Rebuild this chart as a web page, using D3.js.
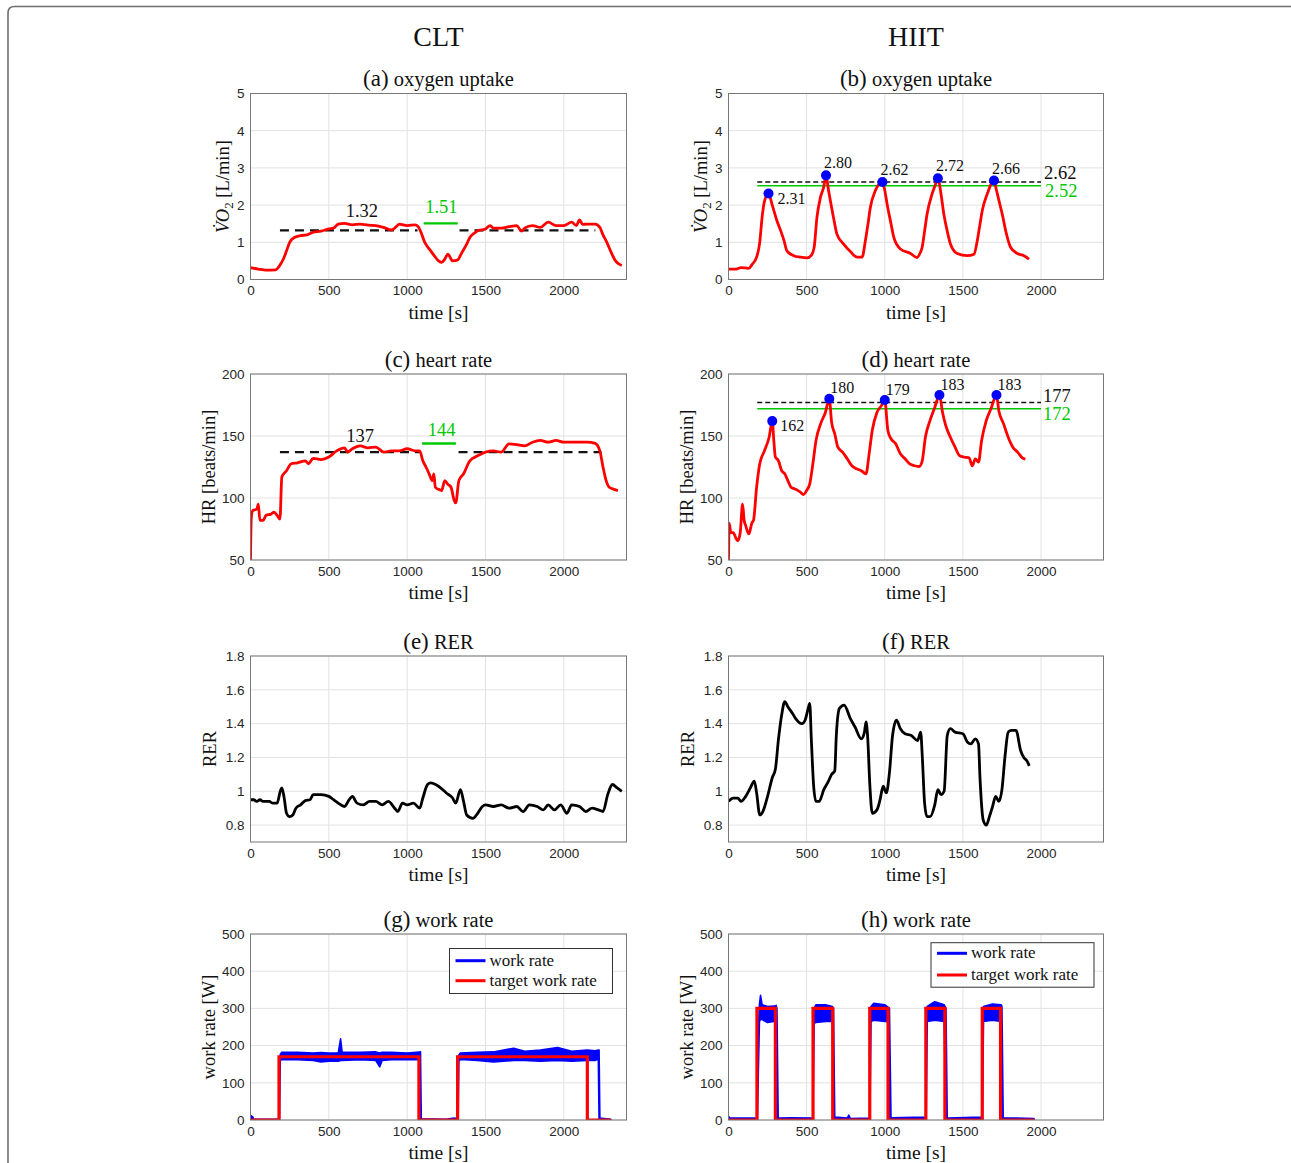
<!DOCTYPE html>
<html><head><meta charset="utf-8">
<script src="https://cdn.jsdelivr.net/npm/d3@7"></script>
<style>
body{margin:0;background:#fff;}
svg{display:block;}
</style></head>
<body>
<svg id="chart" width="1291" height="1163"></svg>
<script>
// ---------------- DATA ----------------
const columnTitles = ["CLT", "HIIT"];
const xTicks = [0, 500, 1000, 1500, 2000];
const vo2Ticks = [0, 1, 2, 3, 4, 5];
const hrTicks = [50, 100, 150, 200];
const rerTicks = [0.8, 1, 1.2, 1.4, 1.6, 1.8];
const wrTicks = [0, 100, 200, 300, 400, 500];
const legendLabels = ["work rate", "target work rate"];

// (a) CLT oxygen uptake [t, L/min]
const cltVo2 = [[0,0.32],[50,0.28],[100,0.25],[160,0.26],[190,0.40],[210,0.55],[230,0.77],[250,1.0],[280,1.13],[320,1.18],[360,1.20],[400,1.27],[450,1.30],[500,1.36],[530,1.38],[560,1.49],[600,1.51],[650,1.47],[700,1.49],[750,1.46],[800,1.45],[850,1.40],[900,1.33],[930,1.42],[950,1.49],[1000,1.45],[1050,1.47],[1070,1.42],[1090,1.25],[1110,1.02],[1130,0.88],[1150,0.77],[1180,0.60],[1200,0.50],[1220,0.46],[1240,0.55],[1260,0.68],[1290,0.50],[1320,0.52],[1350,0.73],[1380,0.95],[1400,1.13],[1430,1.25],[1450,1.31],[1500,1.36],[1530,1.45],[1550,1.38],[1600,1.38],[1650,1.42],[1700,1.45],[1730,1.30],[1750,1.38],[1800,1.45],[1850,1.40],[1900,1.54],[1950,1.45],[2000,1.45],[2050,1.54],[2080,1.45],[2100,1.60],[2120,1.48],[2150,1.49],[2200,1.49],[2230,1.40],[2250,1.20],[2270,1.04],[2300,0.75],[2330,0.50],[2350,0.42],[2370,0.38]];
const cltVo2Mean = 1.32, cltVo2MeanSpans = [[188,1066],[1334,2201]];
const cltVo2Rest = 1.51, cltVo2RestSpan = [1105,1323];

// (b) HIIT oxygen uptake
const hiitVo2 = [[0,0.28],[50,0.28],[80,0.32],[110,0.31],[130,0.30],[150,0.40],[180,0.60],[200,1.0],[215,1.67],[230,2.1],[256,2.31],[280,2.0],[310,1.58],[335,1.3],[355,1.05],[374,0.77],[417,0.64],[460,0.6],[502,0.58],[530,0.65],[548,0.86],[566,1.67],[588,2.2],[609,2.48],[624,2.80],[640,2.4],[652,2.12],[675,1.6],[694,1.22],[737,0.95],[780,0.75],[823,0.6],[855,0.6],[876,1.04],[893,1.5],[908,1.94],[940,2.39],[985,2.62],[1000,2.4],[1015,2.03],[1040,1.5],[1058,1.13],[1100,0.82],[1165,0.7],[1207,0.59],[1225,0.7],[1239,0.86],[1255,1.3],[1271,1.76],[1303,2.30],[1320,2.5],[1340,2.72],[1360,2.3],[1378,1.76],[1400,1.3],[1421,0.95],[1464,0.7],[1528,0.64],[1571,0.68],[1592,1.04],[1610,1.5],[1624,1.85],[1656,2.30],[1699,2.66],[1715,2.4],[1731,2.12],[1755,1.7],[1774,1.31],[1806,0.86],[1848,0.70],[1891,0.64],[1923,0.55]];
const hiitVo2Peaks = [[256,2.31],[624,2.80],[985,2.62],[1340,2.72],[1699,2.66]];
const hiitVo2PeakLabels = ["2.31","2.80","2.62","2.72","2.66"];
const hiitVo2Mean = 2.62, hiitVo2Green = 2.52, hiitRefSpan = [184,2000];

// (c) CLT heart rate
const cltHr = [[0,50],[5,84],[15,90],[40,91],[50,95],[60,82],[80,82],[100,86],[130,87],[150,88.5],[170,86],[188,83],[200,117],[230,122],[260,127.6],[300,128.4],[350,130],[370,127.6],[400,132],[450,131],[500,133],[550,138],[600,140.5],[620,137],[650,139.7],[700,142],[750,140.5],[800,141],[850,137],[900,138],[950,138],[1000,139.7],[1050,138],[1080,138],[1100,130],[1120,125],[1140,119.5],[1160,114],[1170,119.5],[1180,108.7],[1200,107],[1220,106],[1240,114],[1260,111],[1280,108.7],[1300,98],[1310,96],[1330,114],[1360,119.5],[1400,130],[1450,134],[1500,137],[1550,138],[1600,137],[1650,143.7],[1700,143],[1750,142],[1800,145],[1850,146.4],[1900,145],[1950,146.4],[2000,145],[2050,145],[2100,145],[2150,145],[2200,144],[2230,138],[2250,125],[2270,114],[2290,108.7],[2320,107],[2345,106]];
const cltHrMean = 137, cltHrMeanSpans = [[188,1078],[1328,2240]];
const cltHrRest = 144, cltHrRestSpan = [1095,1311];

// (d) HIIT heart rate
const hiitHr = [[0,50],[5,79.6],[15,72],[30,72],[50,67],[60,65.6],[75,72],[90,95],[100,82],[110,77.7],[130,71],[150,80],[160,82],[180,108.7],[200,127.6],[230,138],[260,149],[280,162],[290,146.4],[300,133],[320,130],[340,122],[360,119.5],[380,114],[400,108.7],[430,107],[460,104.7],[480,102.8],[500,106],[520,111.4],[540,127.6],[560,146.4],[590,160],[620,169],[645,180],[660,161],[680,151.8],[700,141],[730,137],[760,131.6],[790,126],[820,123.5],[850,122],[880,119.5],[900,135.6],[920,154.5],[950,169],[980,174.7],[1000,179],[1020,154.5],[1040,147.8],[1070,143.7],[1100,135.6],[1130,131.6],[1160,127.6],[1190,126],[1220,125.4],[1240,130],[1260,149],[1290,162.6],[1320,173],[1350,183],[1370,169],[1390,158.5],[1420,149],[1450,141],[1480,134],[1510,133],[1540,132.4],[1560,126],[1580,131.6],[1600,129],[1620,146.4],[1650,162.6],[1680,172],[1715,183],[1730,170.4],[1760,160],[1790,149],[1820,141],[1850,137],[1880,132.4],[1900,131.3]];
const hiitHrPeaks = [[280,162],[645,180],[1000,179],[1350,183],[1715,183]];
const hiitHrPeakLabels = ["162","180","179","183","183"];
const hiitHrMean = 177, hiitHrGreen = 172;

// (e) CLT RER
const cltRer = [[0,0.95],[20,0.95],[40,0.94],[60,0.95],[80,0.94],[120,0.94],[140,0.93],[170,0.93],[190,1.0],[200,1.02],[215,0.96],[230,0.87],[250,0.85],[270,0.86],[290,0.90],[320,0.92],[350,0.945],[380,0.95],[400,0.98],[450,0.98],[500,0.97],[530,0.95],[560,0.93],[600,0.91],[630,0.95],[650,0.97],[680,0.93],[720,0.92],[760,0.94],[800,0.94],[840,0.92],[880,0.94],[920,0.90],[940,0.88],[970,0.93],[1000,0.92],[1040,0.93],[1080,0.90],[1100,0.96],[1130,1.04],[1150,1.05],[1200,1.03],[1250,0.99],[1290,0.96],[1310,0.93],[1340,1.01],[1360,0.94],[1380,0.86],[1420,0.84],[1450,0.87],[1480,0.91],[1500,0.92],[1550,0.91],[1600,0.92],[1650,0.90],[1700,0.91],[1740,0.88],[1780,0.92],[1830,0.91],[1870,0.89],[1900,0.92],[1940,0.89],[1980,0.92],[2020,0.87],[2050,0.92],[2100,0.91],[2140,0.88],[2180,0.90],[2220,0.89],[2250,0.88],[2280,0.98],[2310,1.04],[2340,1.02],[2370,1.0]];

// (f) HIIT RER
const hiitRer = [[0,0.94],[30,0.96],[60,0.96],[80,0.94],[110,0.97],[140,1.02],[165,1.06],[180,0.99],[200,0.86],[220,0.88],[250,0.97],[280,1.08],[300,1.13],[320,1.31],[340,1.45],[360,1.53],[380,1.50],[410,1.46],[430,1.43],[470,1.40],[490,1.42],[510,1.49],[520,1.52],[530,1.31],[545,1.03],[560,0.94],[580,0.94],[610,1.01],[640,1.06],[660,1.10],[680,1.12],[690,1.33],[710,1.49],[740,1.51],[780,1.43],[810,1.38],[850,1.31],[870,1.35],[880,1.41],[890,1.33],[905,1.03],[920,0.87],[950,0.89],[970,0.95],[990,1.03],[1010,0.99],[1030,1.11],[1050,1.33],[1075,1.42],[1100,1.37],[1130,1.34],[1170,1.33],[1210,1.30],[1230,1.35],[1240,1.21],[1255,0.93],[1270,0.85],[1290,0.85],[1320,0.92],[1340,1.01],[1360,0.98],[1380,1.00],[1400,1.33],[1420,1.37],[1450,1.35],[1500,1.34],[1530,1.29],[1550,1.28],[1580,1.31],[1600,1.28],[1610,1.07],[1630,0.83],[1650,0.80],[1670,0.85],[1690,0.91],[1710,0.97],[1730,0.94],[1750,1.01],[1770,1.21],[1790,1.35],[1810,1.36],[1840,1.36],[1870,1.24],[1890,1.20],[1910,1.18],[1925,1.15]];

// (g) CLT work rate: measured band [t, low, high] and target [t, W]
const cltWork = [[0,0,12],[15,0,8],[20,0,2],[185,0,2],[190,160,176],[200,163,182],[300,162,182],[400,160,180],[450,156,181],[500,158,180],[560,158,180],[575,160,218],[585,160,182],[700,162,182],[800,160,183],[825,143,180],[840,160,182],[900,162,182],[1000,163,180],[1080,162,183],[1085,0,183],[1090,0,3],[1250,0,2],[1300,0,5],[1325,0,3],[1330,158,175],[1340,163,180],[1450,160,182],[1550,156,183],[1680,160,193],[1750,160,185],[1850,158,188],[1960,160,195],[2050,158,185],[2150,160,188],[2200,160,186],[2220,165,188],[2225,0,188],[2230,0,5],[2300,0,2]];
const cltTarget = [[0,0],[182,0],[182,170],[1075,170],[1075,0],[1322,0],[1322,170],[2150,170],[2150,0],[2300,0]];

// (h) HIIT work rate
const hiitWork = [[0,0,10],[10,0,5],[185,0,5],[192,150,250],[198,265,310],[205,270,335],[215,270,310],[250,262,305],[290,265,306],[305,265,308],[310,0,300],[318,0,5],[400,0,6],[540,0,5],[548,260,300],[560,262,310],[620,265,310],[665,265,305],[672,0,300],[680,0,8],[760,0,5],[770,0,13],[780,0,4],[905,0,5],[912,265,305],[930,268,314],[1000,265,310],[1025,265,302],[1030,0,300],[1040,0,6],[1265,0,8],[1272,265,305],[1320,268,318],[1380,265,310],[1392,0,300],[1400,0,5],[1625,0,8],[1632,265,305],[1690,268,312],[1745,265,310],[1750,0,305],[1758,0,6],[1955,0,4]];
const hiitTarget = [[0,0],[182,0],[182,300],[300,300],[300,0],[541,0],[541,300],[667,300],[667,0],[904,0],[904,300],[1021,300],[1021,0],[1263,0],[1263,300],[1385,300],[1385,0],[1624,0],[1624,300],[1741,300],[1741,0],[1955,0]];

// ---------------- LAYOUT ----------------
const svg = d3.select("#chart");
const SERIF = "'Liberation Serif','Times New Roman',serif";
const SANS = "'Liberation Sans',Arial,sans-serif";
const RED = "#ff0000", BLUE = "#0000ff", GREEN = "#00c800";
const cols = [{l:250.5, r:626.5}, {l:728.5, r:1103.5}];
const rowTop = [93.5, 374, 656, 934];
const PH = 186;

// outer frame
svg.append("path")
  .attr("d", "M8,1163 V13 Q8,6.5 14.5,6.5 H1291")
  .attr("fill", "none").attr("stroke", "#6e6e6e").attr("stroke-width", 1.6);

columnTitles.forEach((t, i) => {
  svg.append("text").attr("x", (cols[i].l + cols[i].r) / 2).attr("y", 46)
    .attr("text-anchor", "middle").attr("font-family", SERIF).attr("font-size", 28)
    .attr("fill", "#111").text(t);
});

function panel(cfg) {
  const c = cols[cfg.col], top = rowTop[cfg.row], bot = top + PH;
  const x = d3.scaleLinear().domain([0, 2400]).range([c.l, c.r]);
  const y = d3.scaleLinear().domain(cfg.yDomain).range([bot, top]);
  const g = svg.append("g");
  // grid
  const grid = g.append("g");
  xTicks.forEach(t => grid.append("line").attr("x1", x(t)).attr("x2", x(t)).attr("y1", top).attr("y2", bot)
    .attr("stroke", "#e2e2e2").attr("stroke-width", 1));
  cfg.yTicks.forEach(t => grid.append("line").attr("x1", c.l).attr("x2", c.r).attr("y1", y(t)).attr("y2", y(t))
    .attr("stroke", "#e2e2e2").attr("stroke-width", 1));
  // axes (d3 axes for labels)
  const xa = g.append("g").attr("transform", `translate(0,${bot})`)
    .call(d3.axisBottom(x).tickValues(xTicks).tickSize(0).tickPadding(6).tickFormat(d3.format("d")));
  const ya = g.append("g").attr("transform", `translate(${c.l},0)`)
    .call(d3.axisLeft(y).tickValues(cfg.yTicks).tickSize(0).tickPadding(6).tickFormat(cfg.fmt || d3.format("d")));
  [xa, ya].forEach(a => {
    a.select(".domain").remove();
    a.selectAll("text").attr("font-family", SANS).attr("font-size", 13.5).attr("fill", "#262626");
  });
  // clip
  const cid = "clip" + cfg.id;
  g.append("clipPath").attr("id", cid).append("rect").attr("x", c.l).attr("y", top).attr("width", c.r - c.l).attr("height", PH);
  const plot = g.append("g").attr("clip-path", `url(#${cid})`);
  cfg.draw(plot, x, y);
  // box
  g.append("rect").attr("x", c.l).attr("y", top).attr("width", c.r - c.l).attr("height", PH)
    .attr("fill", "none").attr("stroke", "#777").attr("stroke-width", 1);
  if (cfg.after) cfg.after(g, x, y);
  // title
  const tt = g.append("text").attr("x", (c.l + c.r) / 2).attr("y", top - 7.5).attr("text-anchor", "middle")
    .attr("font-family", SERIF).attr("fill", "#111");
  tt.append("tspan").attr("font-size", 23).text(cfg.letter);
  tt.append("tspan").attr("font-size", 20.5).text(" " + cfg.title);
  // x label
  g.append("text").attr("x", (c.l + c.r) / 2).attr("y", bot + 39).attr("text-anchor", "middle")
    .attr("font-family", SERIF).attr("font-size", 19.5).attr("fill", "#111").text("time [s]");
  // y label
  const yl = g.append("text").attr("transform", `translate(${c.l + cfg.ylOff},${(top + bot) / 2}) rotate(-90)`)
    .attr("text-anchor", "middle").attr("font-family", SERIF).attr("font-size", 18.5).attr("fill", "#111");
  cfg.ylabel(yl);
}

const lineGen = (x, y) => d3.line().x(d => x(d[0])).y(d => y(d[1]));
const smooth = (x, y) => d3.line().x(d => x(d[0])).y(d => y(d[1])).curve(d3.curveMonotoneX);

function vo2Label(t) {
  t.append("tspan").attr("font-style", "italic").text("V\u0307O");
  t.append("tspan").attr("font-size", 13).attr("dy", 4).text("2");
  t.append("tspan").attr("dy", -4).text(" [L/min]");
}

function drawRedCurve(p, x, y, data) {
  p.append("path").datum(data).attr("d", smooth(x, y)).attr("fill", "none")
    .attr("stroke", RED).attr("stroke-width", 2.8).attr("stroke-linejoin", "round");
}
function hline(p, x, y, v, span, color, w, dash) {
  p.append("line").attr("x1", x(span[0])).attr("x2", x(span[1])).attr("y1", y(v)).attr("y2", y(v))
    .attr("stroke", color).attr("stroke-width", w).attr("stroke-dasharray", dash || null);
}
function label(g, xp, yp, txt, color, size, anchor) {
  g.append("text").attr("x", xp).attr("y", yp).attr("text-anchor", anchor || "start")
    .attr("font-family", SERIF).attr("font-size", size).attr("fill", color).text(txt);
}

// (a)
panel({id:"a", col:0, row:0, yDomain:[0,5], yTicks:vo2Ticks, letter:"(a)", title:"oxygen uptake", ylOff:-22,
  ylabel: vo2Label,
  draw:(p,x,y)=>{
    cltVo2MeanSpans.forEach(s => hline(p,x,y,cltVo2Mean,s,"#111",2.4,"9,6"));
    hline(p,x,y,cltVo2Rest,cltVo2RestSpan,GREEN,2.4);
    drawRedCurve(p,x,y,cltVo2);
  },
  after:(g,x,y)=>{
    label(g, x(711), y(cltVo2Mean)-13, cltVo2Mean.toFixed(2), "#111", 18.5, "middle");
    label(g, x(1218), y(cltVo2Rest)-10, cltVo2Rest.toFixed(2), GREEN, 18.5, "middle");
  }});

// (b)
panel({id:"b", col:1, row:0, yDomain:[0,5], yTicks:vo2Ticks, letter:"(b)", title:"oxygen uptake", ylOff:-22,
  ylabel: vo2Label,
  draw:(p,x,y)=>{
    hline(p,x,y,hiitVo2Mean,hiitRefSpan,"#111",1.5,"5,3");
    hline(p,x,y,hiitVo2Green,hiitRefSpan,GREEN,1.6);
    drawRedCurve(p,x,y,hiitVo2);
    p.selectAll("circle").data(hiitVo2Peaks).join("circle").attr("cx",d=>x(d[0])).attr("cy",d=>y(d[1]))
      .attr("r",5).attr("fill",BLUE);
  },
  after:(g,x,y)=>{
    hiitVo2Peaks.forEach((d,i)=>{
      if (i===0) label(g, x(d[0])+9, y(d[1])+10, hiitVo2PeakLabels[i], "#111", 16);
      else label(g, x(d[0])-2, y(d[1])-7, hiitVo2PeakLabels[i], "#111", 16);
    });
    label(g, x(hiitRefSpan[1])+3, y(hiitVo2Mean)-3, hiitVo2Mean.toFixed(2), "#111", 18.5);
    label(g, x(hiitRefSpan[1])+4, y(hiitVo2Green)+11, hiitVo2Green.toFixed(2), GREEN, 18.5);
  }});

// (c)
panel({id:"c", col:0, row:1, yDomain:[50,200], yTicks:hrTicks, letter:"(c)", title:"heart rate", ylOff:-36,
  ylabel: t=>t.text("HR [beats/min]"),
  draw:(p,x,y)=>{
    cltHrMeanSpans.forEach(s => hline(p,x,y,cltHrMean,s,"#111",2.4,"9,6"));
    hline(p,x,y,cltHrRest,cltHrRestSpan,GREEN,2.4);
    drawRedCurve(p,x,y,cltHr);
  },
  after:(g,x,y)=>{
    label(g, x(700), y(cltHrMean)-10, String(cltHrMean), "#111", 18.5, "middle");
    label(g, x(1220), y(cltHrRest)-7, String(cltHrRest), GREEN, 18.5, "middle");
  }});

// (d)
panel({id:"d", col:1, row:1, yDomain:[50,200], yTicks:hrTicks, letter:"(d)", title:"heart rate", ylOff:-36,
  ylabel: t=>t.text("HR [beats/min]"),
  draw:(p,x,y)=>{
    hline(p,x,y,hiitHrMean,hiitRefSpan,"#111",1.5,"5,3");
    hline(p,x,y,hiitHrGreen,hiitRefSpan,GREEN,1.6);
    drawRedCurve(p,x,y,hiitHr);
    p.selectAll("circle").data(hiitHrPeaks).join("circle").attr("cx",d=>x(d[0])).attr("cy",d=>y(d[1]))
      .attr("r",5).attr("fill",BLUE);
  },
  after:(g,x,y)=>{
    hiitHrPeaks.forEach((d,i)=>{
      if (i===0) label(g, x(d[0])+8, y(d[1])+10, hiitHrPeakLabels[i], "#111", 16);
      else label(g, x(d[0])+1, y(d[1])-5.5, hiitHrPeakLabels[i], "#111", 16);
    });
    label(g, x(hiitRefSpan[1])+2, y(hiitHrMean)-1, String(hiitHrMean), "#111", 18.5);
    label(g, x(hiitRefSpan[1])+2, y(hiitHrGreen)+11.5, String(hiitHrGreen), GREEN, 18.5);
  }});

// (e)
const rerFmt = d => (d === 1 ? "1" : d3.format(".1f")(d));
panel({id:"e", col:0, row:2, yDomain:[0.7,1.8], yTicks:rerTicks, fmt:rerFmt, letter:"(e)", title:"RER", ylOff:-35,
  ylabel: t=>t.text("RER"),
  draw:(p,x,y)=>{
    p.append("path").datum(cltRer).attr("d", smooth(x,y)).attr("fill","none").attr("stroke","#000").attr("stroke-width",2.8);
  }});

// (f)
panel({id:"f", col:1, row:2, yDomain:[0.7,1.8], yTicks:rerTicks, fmt:rerFmt, letter:"(f)", title:"RER", ylOff:-35,
  ylabel: t=>t.text("RER"),
  draw:(p,x,y)=>{
    p.append("path").datum(hiitRer).attr("d", smooth(x,y)).attr("fill","none").attr("stroke","#000").attr("stroke-width",2.8);
  }});

function workDraw(band, target) {
  return (p,x,y)=>{
    p.append("path").datum(band)
      .attr("d", d3.area().x(d=>x(d[0])).y0(d=>y(d[1])).y1(d=>y(d[2])))
      .attr("fill", BLUE).attr("stroke", BLUE).attr("stroke-width", 1.6).attr("stroke-linejoin","round");
    p.append("path").datum(target).attr("d", lineGen(x,y)).attr("fill","none")
      .attr("stroke", RED).attr("stroke-width", 3.2).attr("stroke-linejoin","miter");
  };
}
function legend(bx, by, bw, bh, y1, y2) {
  return (g)=>{
    g.append("rect").attr("x",bx).attr("y",by).attr("width",bw).attr("height",bh)
      .attr("fill","#fff").attr("stroke","#333").attr("stroke-width",1);
    [[y1,BLUE],[y2,RED]].forEach(([yy,col],i)=>{
      g.append("line").attr("x1",bx+6).attr("x2",bx+36).attr("y1",yy).attr("y2",yy).attr("stroke",col).attr("stroke-width",3);
      g.append("text").attr("x",bx+40).attr("y",yy+5).attr("font-family",SERIF).attr("font-size",17)
        .attr("fill","#111").text(legendLabels[i]);
    });
  };
}

// (g)
panel({id:"g", col:0, row:3, yDomain:[0,500], yTicks:wrTicks, letter:"(g)", title:"work rate", ylOff:-36,
  ylabel: t=>t.text("work rate [W]"),
  draw: workDraw(cltWork, cltTarget),
  after: legend(449.5, 948.5, 163, 45, 960.7, 980.7)});

// (h)
panel({id:"h", col:1, row:3, yDomain:[0,500], yTicks:wrTicks, letter:"(h)", title:"work rate", ylOff:-36,
  ylabel: t=>t.text("work rate [W]"),
  draw: workDraw(hiitWork, hiitTarget),
  after: legend(931, 942.7, 163, 44.5, 953.3, 975)});
</script>
</body></html>
